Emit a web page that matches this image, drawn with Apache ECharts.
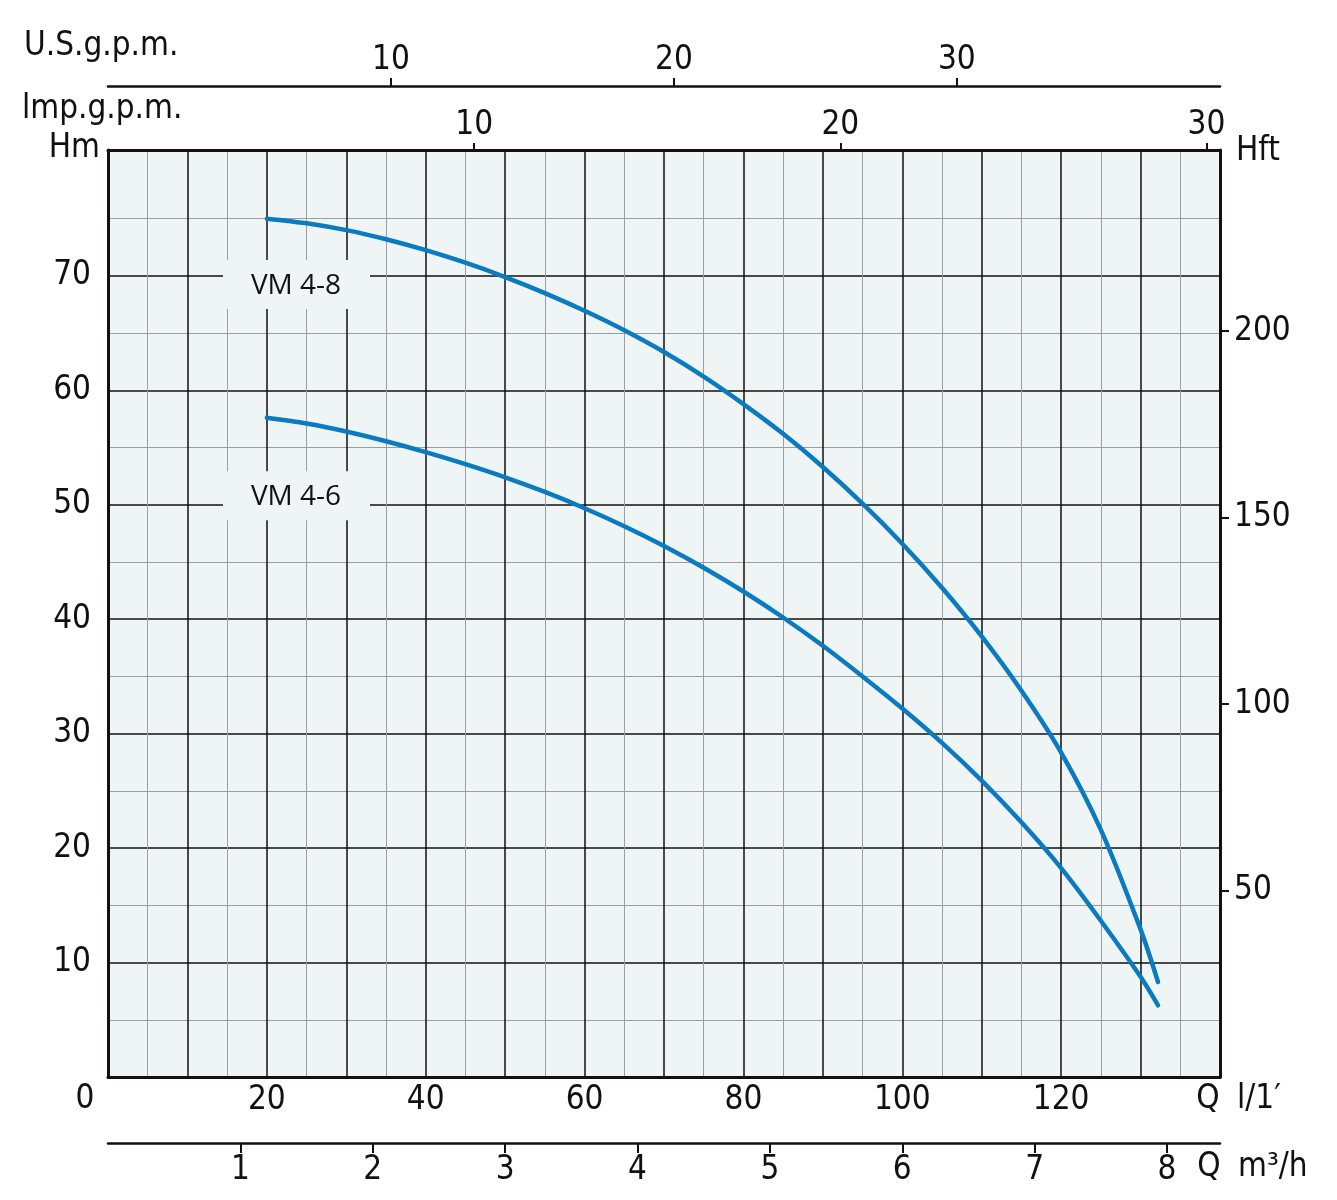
<!DOCTYPE html>
<html><head><meta charset="utf-8">
<script src="https://cdn.jsdelivr.net/npm/echarts@6/dist/echarts.min.js"></script>
<style>html,body{margin:0;padding:0;background:#fff}#c{width:1337px;height:1200px}</style>
</head><body><div id="c"></div>
<script>
// ---- data ----
const flowLpm = [20, 25, 30, 35, 40, 45, 50, 55, 60, 65, 70, 75, 80, 85, 90, 95, 100, 105, 110, 115, 120, 125, 130, 132.2];
const vm48Head = [75.0, 74.6, 74.0, 73.2, 72.25, 71.15, 69.9, 68.5, 66.95, 65.25, 63.35, 61.2, 58.8, 56.2, 53.3, 50.1, 46.6, 42.75, 38.5, 33.75, 28.35, 21.6, 12.9, 8.3];
const vm46Head = [57.6, 57.1, 56.4, 55.55, 54.6, 53.55, 52.4, 51.12, 49.7, 48.13, 46.4, 44.5, 42.42, 40.15, 37.68, 35.0, 32.2, 29.2, 25.9, 22.25, 18.25, 13.65, 8.75, 6.26];
const curveNames = ['VM 4-8', 'VM 4-6'];

const lpmTicks = [20, 40, 60, 80, 100, 120];
const m3hTicks = [1, 2, 3, 4, 5, 6, 7, 8];
const usTicks = [10, 20, 30];
const impTicks = [10, 20, 30];
const hmTicks = [10, 20, 30, 40, 50, 60, 70];
const hftTicks = [50, 100, 150, 200];

const lpmMax = 140, m3hMax = 8.4, usMax = 39.3, impMax = 30.37, hmMax = 81, hftMax = 248.5;

// ---- styles ----
const FONT = "'Liberation Sans Narrow','DejaVu Sans Condensed',sans-serif";
const FS = 33;
const INK = '#111';
const BLUE = '#0a7bc2';
const BG = '#eff5f5';
const MINOR = '#9a9e9e';

const chart = echarts.init(document.getElementById('c'), null, {renderer: 'canvas'});

function lbl(extra) {
  return Object.assign({fontFamily: FONT, fontSize: FS, color: INK}, extra);
}
function txt(text, x, y, align) {
  return {type: 'text', z: 100, style: {text: text, x: x, y: y, font: FS + 'px ' + FONT, fill: INK,
    textAlign: align, align: align, textVerticalAlign: 'middle', verticalAlign: 'middle'}};
}

const pairs48 = flowLpm.map((x, i) => [x, vm48Head[i]]);
const pairs46 = flowLpm.map((x, i) => [x, vm46Head[i]]);

// major horizontal lines: 0..70 drawn, 80 hidden, top (max) drawn
const hMajorColors = [INK, INK, INK, INK, INK, INK, INK, INK, 'rgba(0,0,0,0)', INK];

const staticGraphic = [
  txt('U.S.g.p.m.', 24, 46, 'left'),
  txt('lmp.g.p.m.', 22, 109, 'left'),
  txt('Hm', 100, 148, 'right'),
  txt('Hft', 1236, 151, 'left'),
  txt('0', 85, 1099, 'center'),
  txt('Q', 1208, 1099, 'center'),
  txt('l/1\u2032', 1237, 1099, 'left'),
  txt('Q', 1209, 1167, 'center'),
  txt('m\u00b3/h', 1238, 1167, 'left')
];

const option = {
  animation: false,
  backgroundColor: '#fff',
  grid: {left: 108, top: 150, width: 1112, height: 927, show: true, backgroundColor: BG, borderWidth: 0, containLabel: false},
  xAxis: [
    { // l/min, with grid lines
      type: 'value', position: 'bottom', min: 0, max: lpmMax, interval: 10,
      axisLine: {show: true, onZero: false, lineStyle: {color: INK, width: 3}},
      axisTick: {show: false},
      axisLabel: lbl({customValues: lpmTicks, margin: 7}),
      splitLine: {show: true, lineStyle: {color: INK, width: 1.5}},
      minorTick: {show: false, splitNumber: 2},
      minorSplitLine: {show: true, lineStyle: {color: MINOR, width: 1}}
    },
    { // m3/h
      type: 'value', position: 'bottom', offset: 66, min: 0, max: m3hMax, interval: 1,
      axisLine: {show: true, onZero: false, lineStyle: {color: INK, width: 2.5}},
      axisTick: {show: true, customValues: m3hTicks, length: 10, lineStyle: {color: INK, width: 2}},
      axisLabel: lbl({customValues: m3hTicks, margin: 11}),
      splitLine: {show: false}
    },
    { // US gpm
      type: 'value', position: 'top', offset: 64, min: 0, max: usMax, interval: 10,
      axisLine: {show: true, onZero: false, lineStyle: {color: INK, width: 2.5}},
      axisTick: {show: true, customValues: usTicks, length: 8, lineStyle: {color: INK, width: 2}},
      axisLabel: lbl({customValues: usTicks, margin: 9}),
      splitLine: {show: false}
    },
    { // Imp gpm
      type: 'value', position: 'top', offset: 0, min: 0, max: impMax, interval: 10,
      axisLine: {show: true, onZero: false, lineStyle: {color: INK, width: 3}},
      axisTick: {show: true, customValues: impTicks, length: 7, lineStyle: {color: INK, width: 2}},
      axisLabel: lbl({customValues: impTicks, margin: 8}),
      splitLine: {show: false}
    }
  ],
  yAxis: [
    { // Hm
      type: 'value', position: 'left', min: 0, max: hmMax, interval: 10,
      axisLine: {show: true, onZero: false, lineStyle: {color: INK, width: 3}},
      axisTick: {show: false},
      axisLabel: lbl({customValues: hmTicks, margin: 17}),
      splitLine: {show: true, lineStyle: {color: hMajorColors, width: 1.5}},
      minorTick: {show: false, splitNumber: 2},
      minorSplitLine: {show: true, lineStyle: {color: MINOR, width: 1}}
    },
    { // Hft
      type: 'value', position: 'right', min: 0, max: hftMax, interval: 50,
      axisLine: {show: true, onZero: false, lineStyle: {color: INK, width: 3}},
      axisTick: {show: true, customValues: hftTicks, length: 9, lineStyle: {color: INK, width: 2}},
      axisLabel: lbl({customValues: hftTicks, margin: 14}),
      splitLine: {show: false}
    }
  ],
  series: [
    {
      name: curveNames[0], type: 'line', xAxisIndex: 0, yAxisIndex: 0, data: pairs48,
      smooth: 0.3, showSymbol: false, symbol: 'none', z: 5,
      lineStyle: {color: BLUE, width: 4.5, cap: 'round', join: 'round'}
    },
    {
      name: curveNames[1], type: 'line', xAxisIndex: 0, yAxisIndex: 0, data: pairs46,
      smooth: 0.3, showSymbol: false, symbol: 'none', z: 5,
      lineStyle: {color: BLUE, width: 4.5, cap: 'round', join: 'round'}
    }
  ],
  graphic: staticGraphic
};
chart.setOption(option);

// curve name tags, anchored in data coordinates through the chart's own scales
const tagAnchors = [[23.67, 69.2], [23.67, 50.75]];
const tags = curveNames.map((name, i) => {
  const p = chart.convertToPixel({xAxisIndex: 0, yAxisIndex: 0}, tagAnchors[i]);
  return {
    type: 'group', x: p[0], y: p[1], z: 50,
    children: [
      {type: 'rect', shape: {x: -73, y: -25, width: 147, height: 49}, style: {fill: BG}, z: 50},
      {type: 'text', z: 51, style: {text: name, x: 0, y: 1, font: "28px 'Open Sans','Noto Sans',sans-serif", fill: INK,
        textAlign: 'center', align: 'center', textVerticalAlign: 'middle', verticalAlign: 'middle'}}
    ]
  };
});
chart.setOption({graphic: staticGraphic.concat(tags)});
</script></body></html>
